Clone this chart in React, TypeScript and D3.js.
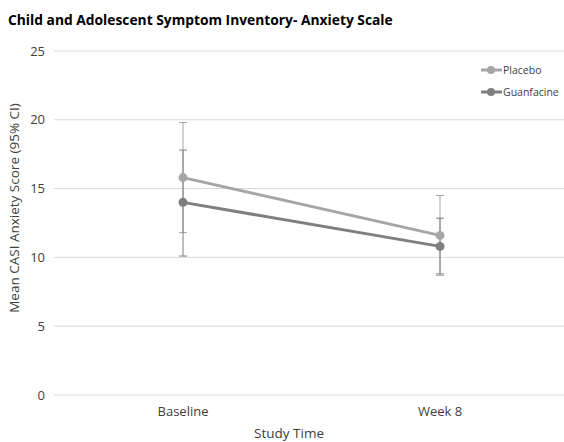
import React from "react";
import * as d3 from "d3";

const categories = ["Baseline", "Week 8"];
const seriesNames = ["Placebo", "Guanfacine"];
const placeboMean = [15.8, 11.6];
const placeboLow = [11.8, 8.7];
const placeboHigh = [19.8, 14.5];
const guanMean = [14.0, 10.8];
const guanLow = [10.1, 8.8];
const guanHigh = [17.8, 12.85];
const yTicks = [0, 5, 10, 15, 20, 25];

const colors = ["#a6a6a6", "#7f7f7f"];
const font = "'Open Sans', 'Liberation Sans', sans-serif";

export default function App() {
  const W = 564, H = 442;
  const x = d3.scaleBand().domain(categories).range([54.5, 568.5]);
  const y = d3.scaleLinear().domain([0, 25]).range([395, 51]);
  const cx = (c: string) => (x(c) as number) + x.bandwidth() / 2;
  const series = [
    { name: seriesNames[0], mean: placeboMean, low: placeboLow, high: placeboHigh, color: colors[0] },
    { name: seriesNames[1], mean: guanMean, low: guanLow, high: guanHigh, color: colors[1] },
  ];
  const line = d3.line<number>().x((_, i) => cx(categories[i])).y((d) => y(d));
  return (
    <svg width={W} height={H} style={{ position: "absolute", left: 0, top: 0, background: "#fff" }}>
      <text x={8} y={25} fontFamily={font} fontWeight="bold" fontSize={13.8} fill="#000">
        Child and Adolescent Symptom Inventory- Anxiety Scale
      </text>
      {yTicks.map((t) => (
        <g key={t}>
          <line x1={54} x2={W} y1={y(t)} y2={y(t)} stroke="#d9d9d9" strokeWidth={1} />
          <text x={45} y={y(t) + 4.5} textAnchor="end" fontFamily={font} fontSize={13} fill="#404040">
            {t}
          </text>
        </g>
      ))}
      {categories.map((c) => (
        <text key={c} x={cx(c)} y={416} textAnchor="middle" fontFamily={font} fontSize={13} fill="#404040">
          {c}
        </text>
      ))}
      <text x={289} y={438} textAnchor="middle" fontFamily={font} fontSize={13.5} fill="#404040">
        Study Time
      </text>
      <text
        transform={`translate(19, 208) rotate(-90)`}
        textAnchor="middle"
        fontFamily={font}
        fontSize={13.5}
        fill="#404040"
      >
        Mean CASI Anxiety Score (95% CI)
      </text>
      {series.map((s) => (
        <g key={s.name}>
          {categories.map((c, i) => (
            <g key={c}>
              <line x1={cx(c)} x2={cx(c)} y1={y(s.low[i])} y2={y(s.high[i])} stroke={s.color} strokeWidth={1} />
              <line x1={cx(c) - 4} x2={cx(c) + 4} y1={y(s.low[i])} y2={y(s.low[i])} stroke={s.color} strokeWidth={1} />
              <line x1={cx(c) - 4} x2={cx(c) + 4} y1={y(s.high[i])} y2={y(s.high[i])} stroke={s.color} strokeWidth={1} />
            </g>
          ))}
        </g>
      ))}
      {series.map((s) => (
        <g key={s.name + "l"}>
          <path d={line(s.mean) as string} fill="none" stroke={s.color} strokeWidth={3} />
          {s.mean.map((m, i) => (
            <circle key={i} cx={cx(categories[i])} cy={y(m)} r={4.5} fill={s.color} />
          ))}
        </g>
      ))}
      {series.map((s, i) => (
        <g key={s.name + "leg"} transform={`translate(0, ${70 + i * 22})`}>
          <line x1={481} x2={502} y1={0} y2={0} stroke={s.color} strokeWidth={3} />
          <circle cx={491} cy={0} r={4} fill={s.color} />
          <text x={503} y={4} fontFamily={font} fontSize={10.5} fill="#404040">
            {s.name}
          </text>
        </g>
      ))}
    </svg>
  );
}
